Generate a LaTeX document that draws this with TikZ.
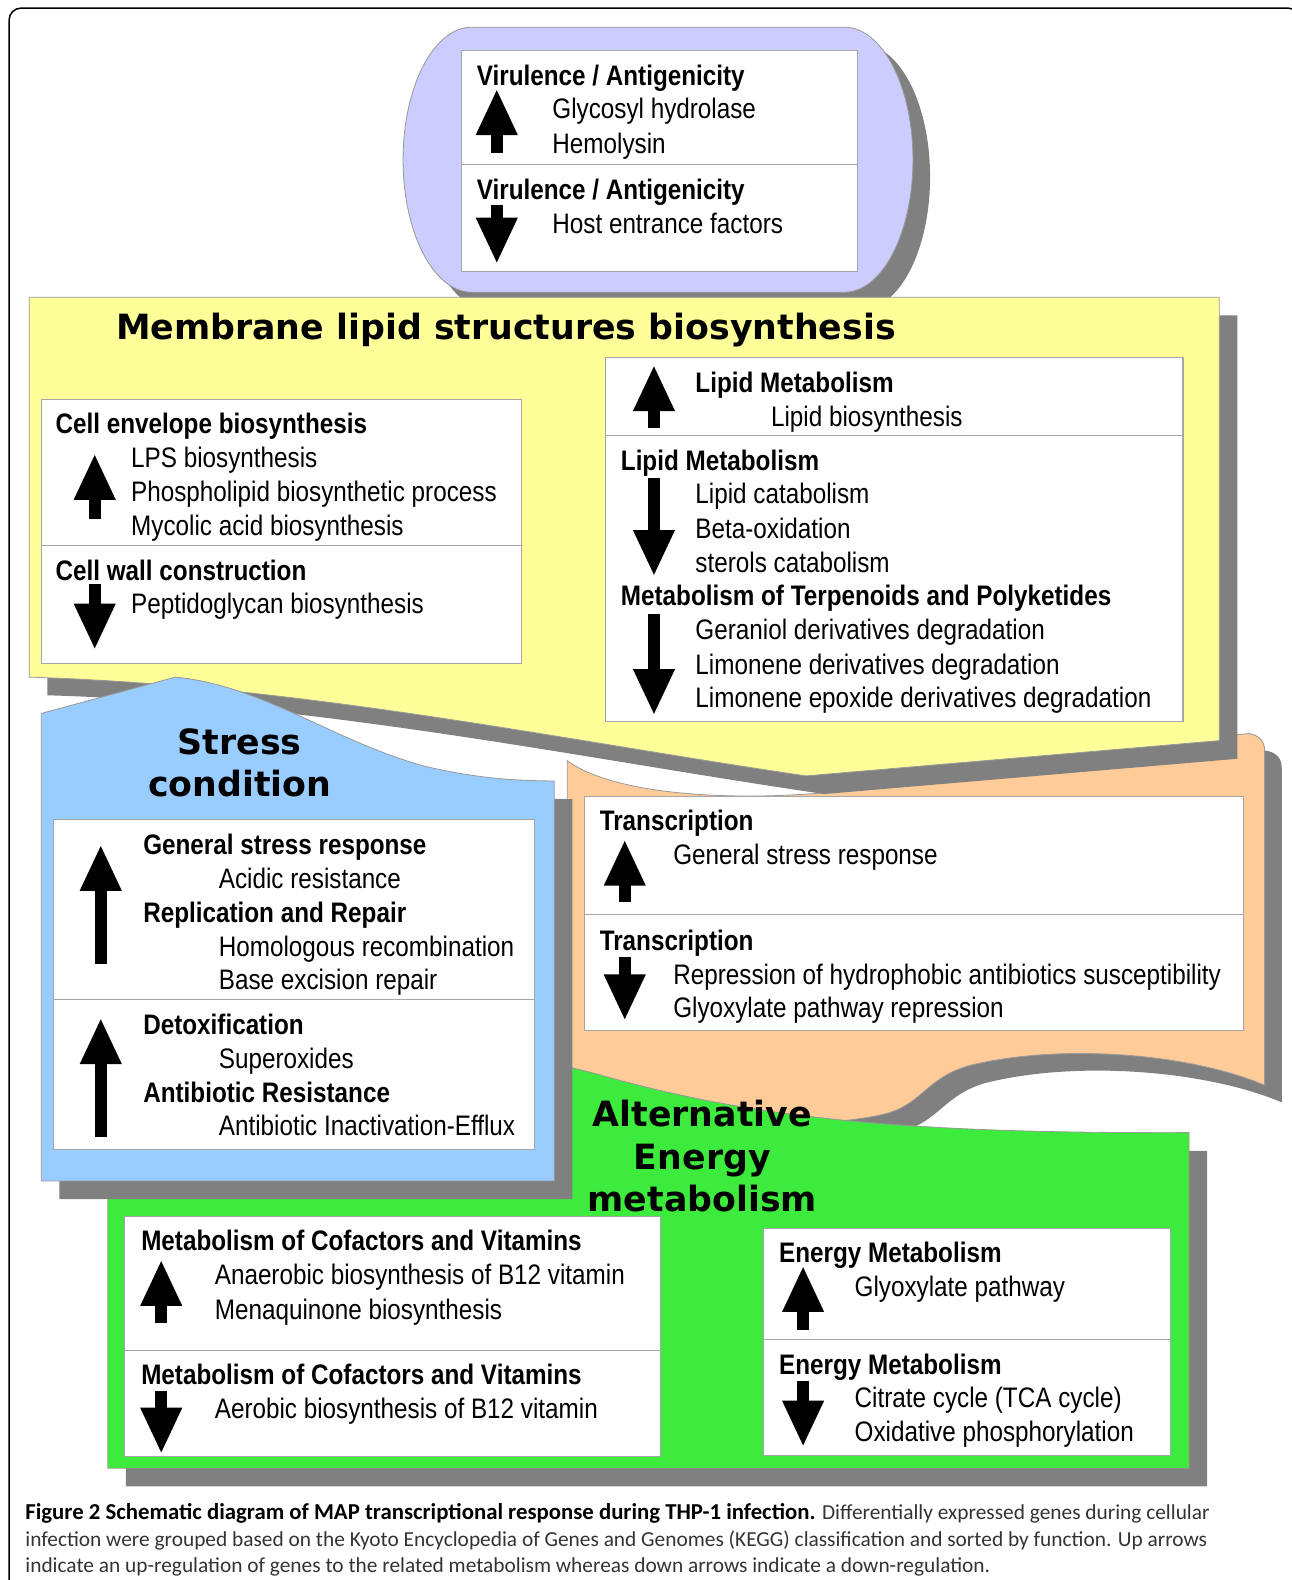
\documentclass[tikz,border=0pt]{standalone}
\usepackage{fontspec}
\setmainfont{Liberation Sans}
\newfontfamily\bodyfont[FakeStretch=0.86]{Liberation Sans}
\newfontfamily\titlefont{DejaVu Sans}
\newfontfamily\capfont{Carlito}
\usetikzlibrary{arrows.meta}

\definecolor{lavender}{HTML}{CCCCFF}
\definecolor{paleyellow}{HTML}{FFFF99}
\definecolor{skyblue}{HTML}{99CCFF}
\definecolor{peach}{HTML}{FFCC99}
\definecolor{brightgreen}{HTML}{3CEB3C}
\definecolor{shadowgray}{HTML}{808080}
\definecolor{captext}{HTML}{333333}

% outlines of the coloured panels (pt, y downwards)
\def\pillpath{(468,27) -- (838,27) arc[start angle=-90, end angle=90, x radius=68, y radius=131.5]
  -- (468,290) arc[start angle=90, end angle=270, x radius=68, y radius=131.5] -- cycle}
\def\yellowpath{(29,295) -- (1210,295) -- (1210,735) -- (800,770)
  .. controls (560,735) and (300,680) .. (29,672) -- cycle}
\def\orangepath{(563,755) .. controls (590,775) and (650,790) .. (745,790)
  .. controls (900,790) and (1150,735) .. (1240,728) .. controls (1250,730) and (1255,736) .. (1255,745)
  -- (1255,1077) .. controls (1180,1045) and (1050,1035) .. (960,1058)
  .. controls (920,1070) and (915,1095) .. (880,1105) .. controls (800,1125) and (650,1110) .. (563,1100) -- cycle}
\def\greenpath{(107,1030) .. controls (350,1020) and (500,1040) .. (600,1068)
  .. controls (750,1110) and (900,1125) .. (1180,1124) -- (1180,1457) -- (107,1457) -- cycle}
\def\bluepath{(41,708) -- (174,672) .. controls (260,680) and (330,735) .. (420,760)
  .. controls (470,772) and (510,775) .. (550,775) -- (550,1172) -- (41,1172) -- cycle}

\begin{document}
\begin{tikzpicture}[x=1pt, y=-1pt,
    item/.style={anchor=west, inner sep=0pt, text height=20pt, text depth=0pt,
      font=\bodyfont\fontsize{28}{34}\selectfont},
    head/.style={item, font=\bodyfont\bfseries\fontsize{28}{34}\selectfont},
    bigtitle/.style={inner sep=0pt, text height=25pt, text depth=0pt,
      font=\titlefont\bfseries\fontsize{34.5}{42}\selectfont},
    panel/.style={draw=black!40, line width=0.8pt},
    wbox/.style={fill=white, draw=black!35, line width=1pt},
    blk/.style={line width=12pt, -{Triangle[length=46pt, width=38pt]}},
    capline/.style={anchor=base west, inner sep=0pt,
      font=\capfont\fontsize{21.2}{27}\selectfont, text=captext}]
    \useasboundingbox (0,0) rectangle (1282,1568);
    \fill[white] (0,0) rectangle (1282,1568);
    \draw[line width=1.5pt, rounded corners=12pt] (9,8) rectangle (1290,1600);

    % virulence panel
    \fill[shadowgray, shift={(17,17)}] \pillpath;
    \filldraw[panel, fill=lavender] \pillpath;
    \filldraw[wbox] (458,50) rectangle (851,269);
    \draw[wbox] (458,163) -- (851,163);
    \draw[blk] (493,152) -- (493,88);
    \draw[blk] (493,203) -- (493,262);
    \node[head] (virUp) at (473,75) {Virulence / Antigenicity};
    \node[item] (glyco) at (548,108) {Glycosyl hydrolase};
    \node[item] (hemo) at (548,142) {Hemolysin};
    \node[head] (virDown) at (473,188) {Virulence / Antigenicity};
    \node[item] (host) at (548,222) {Host entrance factors};

    % coloured panels with their shadows
    \fill[shadowgray, shift={(17,17)}] \orangepath;
    \filldraw[panel, fill=peach] \orangepath;
    \fill[shadowgray, shift={(18,18)}] \yellowpath;
    \filldraw[panel, fill=paleyellow] \yellowpath;
    \fill[shadowgray, shift={(18,18)}] \greenpath;
    \filldraw[panel, fill=brightgreen] \greenpath;
    \fill[shadowgray, shift={(18,18)}] \bluepath;
    \filldraw[panel, fill=skyblue] \bluepath;

    % membrane lipid structures
    \node[bigtitle, anchor=west] (lipidTitle) at (115,324) {Membrane lipid structures biosynthesis};
    \filldraw[wbox] (41,396) rectangle (518,658);
    \draw[wbox] (41,541) -- (518,541);
    \draw[blk] (94,515) -- (94,450);
    \draw[blk] (94,580) -- (94,645);
    \node[head] (envelope) at (55,420) {Cell envelope biosynthesis};
    \node[item] (lps) at (130,454) {LPS biosynthesis};
    \node[item] (phospho) at (130,488) {Phospholipid biosynthetic process};
    \node[item] (mycolic) at (130,521) {Mycolic acid biosynthesis};
    \node[head] (wall) at (55,566) {Cell wall construction};
    \node[item] (peptido) at (130,599) {Peptidoglycan biosynthesis};

    \filldraw[wbox] (601,355) rectangle (1174,716);
    \draw[wbox] (601,432) -- (1174,432);
    \draw[blk] (649,425) -- (649,362);
    \draw[blk] (649,474) -- (649,572);
    \draw[blk] (649,609) -- (649,710);
    \node[head] (lipidUp) at (690,380) {Lipid Metabolism};
    \node[item] (lipidBio) at (765,413) {Lipid biosynthesis};
    \node[head] (lipidDown) at (616,457) {Lipid Metabolism};
    \node[item] (lipidCat) at (690,490) {Lipid catabolism};
    \node[item] (beta) at (690,524) {Beta-oxidation};
    \node[item] (sterols) at (690,558) {sterols catabolism};
    \node[head] (terpen) at (616,591) {Metabolism of Terpenoids and Polyketides};
    \node[item] (geraniol) at (690,625) {Geraniol derivatives degradation};
    \node[item] (limonene) at (690,659) {Limonene derivatives degradation};
    \node[item] (epoxide) at (690,692) {Limonene epoxide derivatives degradation};

    % stress condition
    \node[bigtitle] (stressA) at (238,736) {Stress};
    \node[bigtitle] (stressB) at (238,778) {condition};
    \filldraw[wbox] (53,813) rectangle (530,1141);
    \draw[wbox] (53,992) -- (530,992);
    \draw[blk] (100,957) -- (100,838);
    \draw[blk] (100,1128) -- (100,1010);
    \node[head] (general) at (142,838) {General stress response};
    \node[item] (acidic) at (217,872) {Acidic resistance};
    \node[head] (replic) at (142,905) {Replication and Repair};
    \node[item] (homol) at (217,939) {Homologous recombination};
    \node[item] (excis) at (217,972) {Base excision repair};
    \node[head] (detox) at (142,1017) {Detoxification};
    \node[item] (superox) at (217,1050) {Superoxides};
    \node[head] (antiRes) at (142,1084) {Antibiotic Resistance};
    \node[item] (efflux) at (217,1117) {Antibiotic Inactivation-Efflux};

    % transcription
    \filldraw[wbox] (580,790) rectangle (1234,1023);
    \draw[wbox] (580,908) -- (1234,908);
    \draw[blk] (620,895) -- (620,833);
    \draw[blk] (620,950) -- (620,1013);
    \node[head] (transUp) at (595,814) {Transcription};
    \node[item] (transGen) at (668,848) {General stress response};
    \node[head] (transDown) at (595,933) {Transcription};
    \node[item] (repress) at (668,967) {Repression of hydrophobic antibiotics susceptibility};
    \node[item] (glyRep) at (668,1000) {Glyoxylate pathway repression};

    % alternative energy metabolism
    \node[bigtitle] (altA) at (697,1105) {Alternative};
    \node[bigtitle] (altB) at (697,1148) {Energy};
    \node[bigtitle] (altC) at (697,1190) {metabolism};
    \filldraw[wbox] (124,1207) rectangle (655,1445);
    \draw[wbox] (124,1340) -- (655,1340);
    \draw[blk] (160,1313) -- (160,1250);
    \draw[blk] (160,1380) -- (160,1443);
    \node[head] (cofUp) at (140,1231) {Metabolism of Cofactors and Vitamins};
    \node[item] (anaer) at (213,1265) {Anaerobic biosynthesis of B12 vitamin};
    \node[item] (mena) at (213,1299) {Menaquinone biosynthesis};
    \node[head] (cofDown) at (140,1364) {Metabolism of Cofactors and Vitamins};
    \node[item] (aerob) at (213,1398) {Aerobic biosynthesis of B12 vitamin};

    \filldraw[wbox] (758,1219) rectangle (1162,1444);
    \draw[wbox] (758,1329) -- (1162,1329);
    \draw[blk] (797,1320) -- (797,1256);
    \draw[blk] (797,1370) -- (797,1436);
    \node[head] (energyUp) at (773,1243) {Energy Metabolism};
    \node[item] (glyox) at (848,1277) {Glyoxylate pathway};
    \node[head] (energyDown) at (773,1354) {Energy Metabolism};
    \node[item] (citrate) at (848,1387) {Citrate cycle (TCA cycle)};
    \node[item] (oxphos) at (848,1421) {Oxidative phosphorylation};

    % caption
    \node[capline] (cap1) at (25,1508) {{\bfseries\fontsize{22.6}{27}\selectfont\color{black}Figure 2 Schematic diagram of MAP transcriptional response during THP-1 infection.} Differentially expressed genes during cellular};
    \node[capline] (cap2) at (25,1535) {infection were grouped based on the Kyoto Encyclopedia of Genes and Genomes (KEGG) classification and sorted by function. Up arrows};
    \node[capline] (cap3) at (25,1561) {indicate an up-regulation of genes to the related metabolism whereas down arrows indicate a down-regulation.};
\end{tikzpicture}
\end{document}
